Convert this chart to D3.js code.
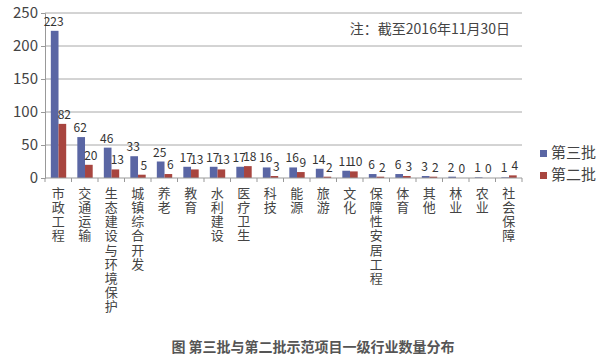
<!DOCTYPE html>
<html>
<head>
<meta charset="utf-8">
<script src="https://cdn.jsdelivr.net/npm/d3@7"></script>
<style>
  body { margin: 0; background: #fff; }
  text { font-family: "Noto Sans CJK SC", "Noto Sans", sans-serif; }
</style>
</head>
<body>
<div id="plt"></div>
<script>
// categories and values
const categories = ["市政工程", "交通运输", "生态建设与环境保护", "城镇综合开发", "养老", "教育",
  "水利建设", "医疗卫生", "科技", "能源", "旅游", "文化", "保障性安居工程", "体育",
  "其他", "林业", "农业", "社会保障"];
const batch3 = [223, 62, 46, 33, 25, 17, 17, 17, 16, 16, 14, 11, 6, 6, 3, 2, 1, 1];
const batch2 = [82, 20, 13, 5, 6, 13, 13, 18, 3, 9, 2, 10, 2, 3, 2, 0, 0, 4];
const seriesNames = ["第三批", "第二批"];
const yTicks = [0, 50, 100, 150, 200, 250];

const colors = ["#5a66a4", "#a8453f"];

const W = 616, H = 361;
const plot = { left: 45, right: 522, top: 13, bottom: 178 };

const svg = d3.select("#plt")
  .append("svg")
  .attr("width", W)
  .attr("height", H);

const x = d3.scaleBand()
  .domain(categories)
  .range([plot.left, plot.right]);

const xs = d3.scaleBand()
  .domain(seriesNames)
  .range([x.bandwidth() * 0.22, x.bandwidth() * 0.80]);

const y = d3.scaleLinear()
  .domain([0, 250])
  .range([plot.bottom, plot.top]);

// gridlines
svg.append("g")
  .selectAll("line")
  .data(yTicks.filter(d => d > 0))
  .enter()
  .append("line")
  .attr("x1", plot.left)
  .attr("x2", plot.right)
  .attr("y1", d => y(d))
  .attr("y2", d => y(d))
  .attr("stroke", "#a8a8a8")
  .attr("stroke-width", 1);

// y axis
const yAxis = svg.append("g")
  .attr("transform", `translate(${plot.left},0)`)
  .call(d3.axisLeft(y).tickValues(yTicks).tickSize(4).tickPadding(3));
yAxis.select(".domain").attr("stroke", "#999");
yAxis.selectAll(".tick line").attr("stroke", "#999");
yAxis.selectAll(".tick text")
  .attr("fill", "#444")
  .style("font-size", "15px");

// bars
const rows = categories.map((c, i) => ({ cat: c, vals: [batch3[i], batch2[i]] }));

const group = svg.append("g")
  .selectAll("g")
  .data(rows)
  .enter()
  .append("g")
  .attr("transform", d => `translate(${x(d.cat)},0)`);

group.selectAll("rect")
  .data(d => d.vals.map((v, k) => ({ v, k })))
  .enter()
  .append("rect")
  .attr("x", d => xs(seriesNames[d.k]))
  .attr("width", xs.bandwidth())
  .attr("y", d => y(d.v))
  .attr("height", d => y(0) - y(d.v))
  .attr("fill", d => colors[d.k]);

group.selectAll("text")
  .data(d => d.vals.map((v, k) => ({ v, k })))
  .enter()
  .append("text")
  .attr("x", d => xs(seriesNames[d.k]) + xs.bandwidth() / 2 + (d.k === 0 ? -1 : 2))
  .attr("y", d => y(d.v) - 5)
  .attr("text-anchor", "middle")
  .attr("fill", "#333")
  .style("font-size", "12px")
  .text(d => d.v);

// x axis
const xAxis = svg.append("g")
  .attr("transform", `translate(0,${plot.bottom})`);
xAxis.append("line")
  .attr("x1", plot.left).attr("x2", plot.right)
  .attr("y1", 0).attr("y2", 0)
  .attr("stroke", "#999");
xAxis.selectAll("line.tk")
  .data(categories.concat(["_end"]))
  .enter()
  .append("line")
  .attr("class", "tk")
  .attr("x1", d => d === "_end" ? plot.right : x(d))
  .attr("x2", d => d === "_end" ? plot.right : x(d))
  .attr("y1", 0).attr("y2", 4)
  .attr("stroke", "#999");

// vertical category labels, one character per line
const lab = svg.append("g")
  .selectAll("text")
  .data(categories)
  .enter()
  .append("text")
  .attr("x", d => x(d) + x.bandwidth() / 2)
  .attr("y", plot.bottom + 8)
  .attr("text-anchor", "middle")
  .attr("fill", "#444")
  .style("font-size", "13px");

lab.selectAll("tspan")
  .data(d => Array.from(d))
  .enter()
  .append("tspan")
  .attr("x", function() { return d3.select(this.parentNode).attr("x"); })
  .attr("dy", (d, i) => i === 0 ? "0.95em" : "1.08em")
  .text(d => d);

// legend
const legend = svg.append("g")
  .selectAll("g")
  .data(seriesNames)
  .enter()
  .append("g")
  .attr("transform", (d, i) => `translate(540,${150 + i * 22})`);
legend.append("rect")
  .attr("width", 7).attr("height", 7)
  .attr("fill", (d, i) => colors[i]);
legend.append("text")
  .attr("x", 11).attr("y", 8)
  .attr("fill", "#444")
  .style("font-size", "15px")
  .text(d => d);

// note
svg.append("text")
  .attr("x", 510).attr("y", 34)
  .attr("text-anchor", "end")
  .attr("fill", "#444")
  .style("font-size", "14px")
  .text("注：截至2016年11月30日");

// caption
svg.append("text")
  .attr("x", 313).attr("y", 352)
  .attr("text-anchor", "middle")
  .attr("fill", "#555")
  .style("font-size", "14px")
  .style("font-weight", "bold")
  .text("图 第三批与第二批示范项目一级行业数量分布");
</script>
</body>
</html>
